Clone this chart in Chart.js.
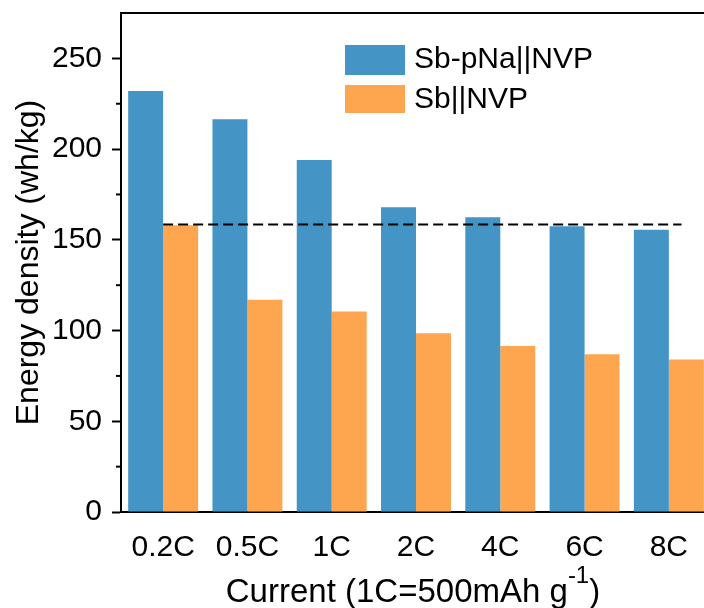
<!DOCTYPE html>
<html>
<head>
<meta charset="utf-8">
<script src="https://cdn.jsdelivr.net/npm/chart.js@4/dist/chart.umd.min.js"></script>
<style>
  html, body { margin: 0; padding: 0; background: #fff; overflow: hidden; }
</style>
</head>
<body>
<canvas id="energyChart" width="760" height="608"></canvas>
<script>
// ── Chart Data ──
const currents = ['0.2C', '0.5C', '1C', '2C', '4C', '6C', '8C'];
const sbPNa = [232, 216.5, 194, 168, 162.5, 157.5, 155.5];
const sbOnly = [158, 117, 110.5, 98.5, 91.5, 87, 84];
const refValue = 158.5;
const refSpan = [0, 6.15];
const yMajorTicks = [0, 50, 100, 150, 200, 250];
const yMinorTicks = [25, 75, 125, 175, 225];

const BLUE = '#4495c6';
const ORANGE = '#fda64f';
const FONT = '"Liberation Sans", Arial, sans-serif';

// ── Extras: reference line, minor ticks, frame, legend, x title ──
const extrasPlugin = {
  id: 'extras',
  afterDatasetsDraw(chart) {
    const { ctx, scales } = chart;
    const py = scales.y.getPixelForValue(refValue);
    ctx.save();
    ctx.strokeStyle = '#000';
    ctx.lineWidth = 2;
    ctx.setLineDash([10, 5]);
    ctx.beginPath();
    ctx.moveTo(scales.x.getPixelForValue(refSpan[0]), py);
    ctx.lineTo(scales.x.getPixelForValue(refSpan[1]), py);
    ctx.stroke();
    ctx.restore();
  },
  afterDraw(chart) {
    const { ctx, chartArea, scales } = chart;
    const y = scales.y;
    ctx.save();
    ctx.strokeStyle = '#000';
    ctx.lineWidth = 2;

    // minor ticks
    yMinorTicks.forEach(v => {
      const py = y.getPixelForValue(v);
      ctx.beginPath();
      ctx.moveTo(chartArea.left - 5, py);
      ctx.lineTo(chartArea.left, py);
      ctx.stroke();
    });

    // top + right frame
    ctx.beginPath();
    ctx.moveTo(chartArea.left - 1, chartArea.top);
    ctx.lineTo(chartArea.right, chartArea.top);
    ctx.lineTo(chartArea.right, chartArea.bottom);
    ctx.stroke();

    // legend
    ctx.font = '30px ' + FONT;
    ctx.textBaseline = 'middle';
    ctx.textAlign = 'left';
    chart.data.datasets.forEach((d, i) => {
      const top = 45 + i * 40;
      ctx.fillStyle = d.backgroundColor;
      ctx.fillRect(345, top, 60, i === 0 ? 30 : 28);
      ctx.fillStyle = '#000';
      ctx.fillText(d.label, 414, top + 15);
    });

    // x axis title with superscript
    const main = 'Current (1C=500mAh g';
    const sup = '-1';
    const tail = ')';
    ctx.font = '33px ' + FONT;
    const wMain = ctx.measureText(main).width;
    const wTail = ctx.measureText(tail).width;
    ctx.font = '24px ' + FONT;
    const wSup = ctx.measureText(sup).width;
    const total = wMain + wSup + wTail;
    let x = (chartArea.left + chartArea.right) / 2 - 3 - total / 2;
    const base = 602;
    ctx.textBaseline = 'alphabetic';
    ctx.fillStyle = '#000';
    ctx.font = '33px ' + FONT;
    ctx.fillText(main, x, base);
    x += wMain;
    ctx.font = '24px ' + FONT;
    ctx.fillText(sup, x, base - 19);
    x += wSup;
    ctx.font = '33px ' + FONT;
    ctx.fillText(tail, x, base);
    ctx.restore();
  }
};

// ── Energy Density Bar Chart ──
function initEnergyChart() {
  const ctx = document.getElementById('energyChart');

  new Chart(ctx, {
    type: 'bar',
    data: {
      labels: currents,
      datasets: [
        { label: 'Sb-pNa||NVP', data: sbPNa, backgroundColor: BLUE },
        { label: 'Sb||NVP', data: sbOnly, backgroundColor: ORANGE }
      ]
    },
    options: {
      responsive: false,
      animation: false,
      categoryPercentage: 0.83,
      barPercentage: 1.0,
      layout: { padding: { top: 0, right: 49, left: 0, bottom: 0 } },
      plugins: {
        legend: { display: false },
        tooltip: { enabled: false }
      },
      scales: {
        x: {
          type: 'category',
          offset: true,
          grid: { display: false, drawTicks: false },
          border: { display: true, color: '#000', width: 2 },
          ticks: {
            color: '#000',
            font: { family: FONT, size: 30 },
            padding: 18,
            autoSkip: false,
            maxRotation: 0
          },
          afterFit: (s) => { s.height = 96; }
        },
        y: {
          min: 0,
          max: 275,
          afterBuildTicks: (s) => {
            s.ticks = yMajorTicks.map(v => ({ value: v }));
          },
          grid: {
            drawOnChartArea: false,
            drawTicks: true,
            tickLength: 9,
            tickWidth: 2,
            tickColor: '#000'
          },
          border: { display: true, color: '#000', width: 2 },
          ticks: {
            color: '#000',
            font: { family: FONT, size: 30, lineHeight: 0.2 },
            padding: 10
          },
          title: {
            display: true,
            text: 'Energy density (wh/kg)',
            color: '#000',
            font: { family: FONT, size: 32 },
            padding: { top: 10, bottom: 0 }
          },
          afterFit: (s) => { s.width = 121; }
        }
      }
    },
    plugins: [extrasPlugin]
  });
}

// ── Init ──
document.addEventListener('DOMContentLoaded', initEnergyChart);
</script>
</body>
</html>
